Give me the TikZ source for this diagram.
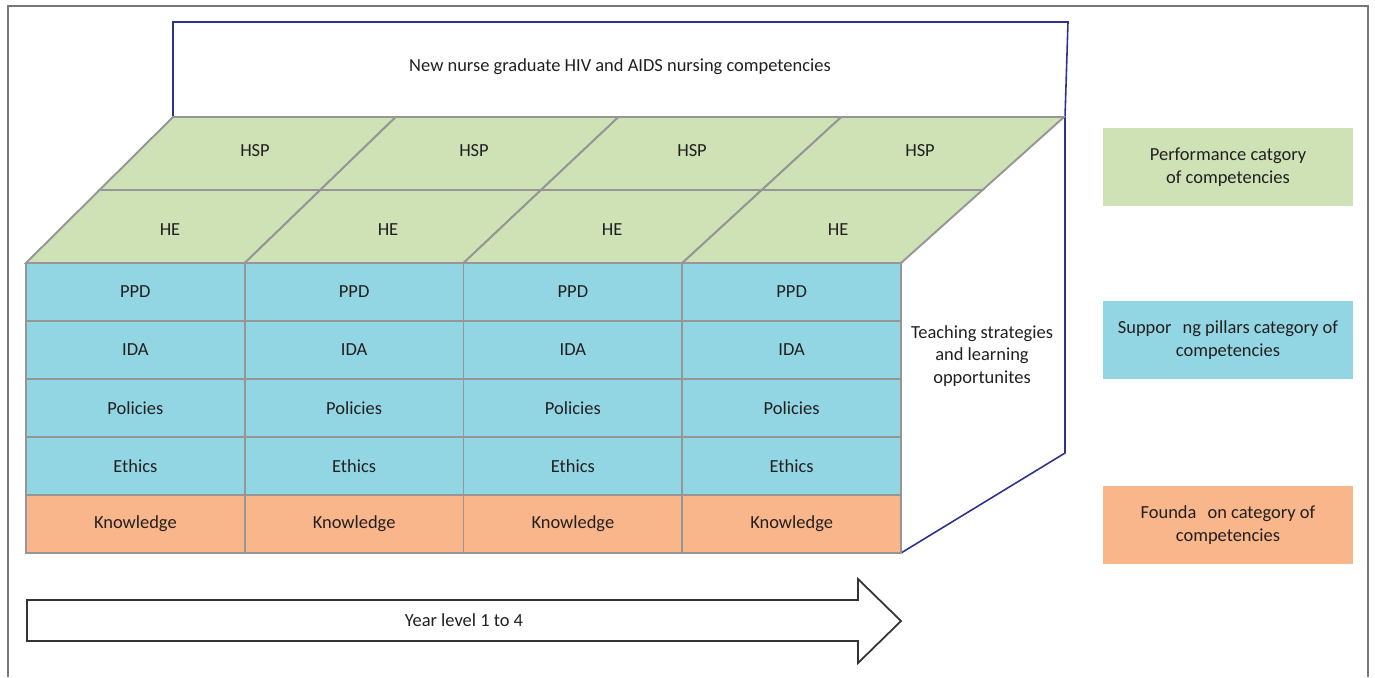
\documentclass[tikz,border=0pt]{standalone}
\usepackage{fontspec}
\setmainfont{Carlito}
\usepackage{tikz}
\definecolor{perfgreen}{RGB}{206,226,181}
\definecolor{suppblue}{RGB}{146,214,227}
\definecolor{foundorange}{RGB}{249,182,138}
\definecolor{cellgray}{RGB}{150,150,150}
\definecolor{navyline}{RGB}{46,49,146}
\definecolor{inktext}{RGB}{35,31,32}

\begin{document}
\begin{tikzpicture}[x=0.02cm, y=-0.02cm,
every node/.style={font=\fontsize{10.5pt}{12.8pt}\selectfont, text=inktext},
perf/.style={draw=cellgray, line width=1.1pt, fill=perfgreen},
supp/.style={draw=cellgray, line width=1.1pt, fill=suppblue},
found/.style={draw=cellgray, line width=1.1pt, fill=foundorange},
legend/.style={align=center, minimum width=5.02cm, minimum height=1.56cm, inner sep=0pt}]
\useasboundingbox (0,0) rectangle (1375,677);
% outer frame
\draw [cellgray!80!black, line width=0.8pt] (8,677) -- (8,6) -- (1368,6) -- (1368,677);
% blue outline behind the block
\draw [navyline, line width=0.9pt] (901,553) -- (1065,453) -- (1065,117) -- (1068,22) -- (173,22) -- (173,117);
\node (title) at (620,67) {New nurse graduate HIV and AIDS nursing competencies};
\node (teach) at (982,356) [align=center] {Teaching strategies\\and learning\\opportunites};
% top face, HE row
\draw [perf] (26,263) -- (244.75,263) -- (320.25,190) -- (99.5,190) -- cycle;
\draw [perf] (244.75,263) -- (463.5,263) -- (541,190) -- (320.25,190) -- cycle;
\draw [perf] (463.5,263) -- (682.25,263) -- (761.75,190) -- (541,190) -- cycle;
\draw [perf] (682.25,263) -- (901,263) -- (982.5,190) -- (761.75,190) -- cycle;
\node (he1) at (170,230) {HE};
\node (he2) at (388,230) {HE};
\node (he3) at (612,230) {HE};
\node (he4) at (838,230) {HE};
% top face, HSP row
\draw [perf] (99.5,190) -- (320.25,190) -- (395.75,117) -- (173,117) -- cycle;
\draw [perf] (320.25,190) -- (541,190) -- (618.5,117) -- (395.75,117) -- cycle;
\draw [perf] (541,190) -- (761.75,190) -- (841.25,117) -- (618.5,117) -- cycle;
\draw [perf] (761.75,190) -- (982.5,190) -- (1064,117) -- (841.25,117) -- cycle;
\node (hsp1) at (255,151) {HSP};
\node (hsp2) at (474,151) {HSP};
\node (hsp3) at (692,151) {HSP};
\node (hsp4) at (920,151) {HSP};
% front face
\begin{scope}[shift={(26,263)}]
\draw [supp] (0,0) rectangle (218.75,58) node [midway] (ppd1) {PPD};
\draw [supp] (218.75,0) rectangle (437.5,58) node [midway] (ppd2) {PPD};
\draw [supp] (437.5,0) rectangle (656.25,58) node [midway] (ppd3) {PPD};
\draw [supp] (656.25,0) rectangle (875,58) node [midway] (ppd4) {PPD};
\end{scope}
\begin{scope}[shift={(26,321)}]
\draw [supp] (0,0) rectangle (218.75,58) node [midway] (ida1) {IDA};
\draw [supp] (218.75,0) rectangle (437.5,58) node [midway] (ida2) {IDA};
\draw [supp] (437.5,0) rectangle (656.25,58) node [midway] (ida3) {IDA};
\draw [supp] (656.25,0) rectangle (875,58) node [midway] (ida4) {IDA};
\end{scope}
\begin{scope}[shift={(26,379)}]
\draw [supp] (0,0) rectangle (218.75,58) node [midway] (pol1) {Policies};
\draw [supp] (218.75,0) rectangle (437.5,58) node [midway] (pol2) {Policies};
\draw [supp] (437.5,0) rectangle (656.25,58) node [midway] (pol3) {Policies};
\draw [supp] (656.25,0) rectangle (875,58) node [midway] (pol4) {Policies};
\end{scope}
\begin{scope}[shift={(26,437)}]
\draw [supp] (0,0) rectangle (218.75,58) node [midway] (eth1) {Ethics};
\draw [supp] (218.75,0) rectangle (437.5,58) node [midway] (eth2) {Ethics};
\draw [supp] (437.5,0) rectangle (656.25,58) node [midway] (eth3) {Ethics};
\draw [supp] (656.25,0) rectangle (875,58) node [midway] (eth4) {Ethics};
\end{scope}
\begin{scope}[shift={(26,495)}]
\draw [found] (0,0) rectangle (218.75,58) node [midway] (know1) {Knowledge};
\draw [found] (218.75,0) rectangle (437.5,58) node [midway] (know2) {Knowledge};
\draw [found] (437.5,0) rectangle (656.25,58) node [midway] (know3) {Knowledge};
\draw [found] (656.25,0) rectangle (875,58) node [midway] (know4) {Knowledge};
\end{scope}
% year arrow
\draw [black!80, line width=1pt, fill=white] (27,600) -- (858,600) -- (858,579) -- (901,621) -- (858,663) -- (858,641) -- (27,641) -- cycle;
\node (year) at (464,620) {Year level 1 to 4};
% legend
\node (perfkey) at (1228,167) [legend, fill=perfgreen] {Performance catgory\\of competencies};
\node (suppkey) at (1228,340) [legend, fill=suppblue] {Suppor\hspace{0.6em}ng pillars category of\\competencies};
\node (foundkey) at (1228,525) [legend, fill=foundorange] {Founda\hspace{0.6em}on category of\\competencies};
\end{tikzpicture}
\end{document}
